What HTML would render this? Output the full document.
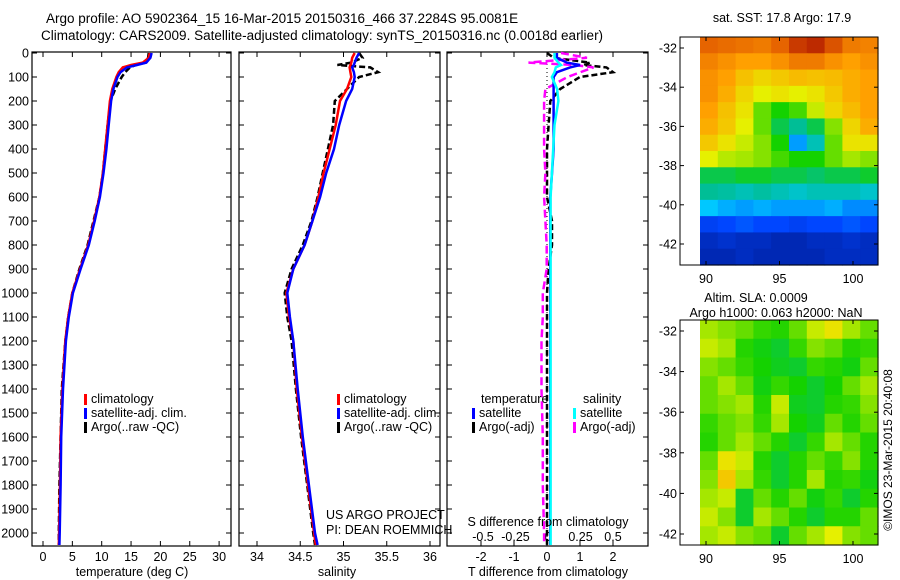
<!DOCTYPE html>
<html><head><meta charset="utf-8"><style>
html,body{margin:0;padding:0;background:#fff;}
svg{display:block;font-family:"Liberation Sans",sans-serif;}
</style></head><body>
<svg id="chart" width="900" height="580" viewBox="0 0 900 580">
<text x="46" y="23" font-size="13.5">Argo profile: AO 5902364_15 16-Mar-2015 20150316_466 37.2284S 95.0081E</text>
<text x="41" y="40" font-size="13.5">Climatology: CARS2009. Satellite-adjusted climatology: synTS_20150316.nc (0.0018d earlier)</text>
<g id="g"></g>
</svg>
<script>
const depths=[0,20,40,50,60,80,100,150,200,300,400,500,600,700,800,900,1000,1100,1200,1400,1600,1800,2000,2050];
const tempClim=[18.2,18.0,17.0,15.0,13.6,12.9,12.5,11.8,11.4,11.0,10.6,10.2,9.6,8.7,7.7,6.3,5.0,4.3,3.8,3.3,3.0,2.9,2.75,2.7];
const tempSat=[18.5,18.3,17.6,16.0,14.3,13.2,12.7,12.0,11.6,11.2,10.8,10.3,9.7,8.8,7.8,6.4,5.1,4.4,3.9,3.4,3.1,3.0,2.85,2.8];
const tempArgo=[18.0,17.9,17.5,15.8,14.8,14.0,13.4,12.3,11.5,11.0,10.6,10.2,9.6,8.6,7.6,6.2,5.0,4.3,3.8,3.2,3.0,2.8,2.7,2.7];
const salClim=[35.13,35.10,35.09,35.08,35.07,35.08,35.09,35.04,34.96,34.91,34.84,34.77,34.71,34.64,34.55,34.42,34.34,34.37,34.42,34.46,34.52,34.59,34.66,34.68];
const salSat=[35.18,35.15,35.13,35.12,35.10,35.12,35.13,35.10,35.03,34.95,34.89,34.80,34.73,34.64,34.55,34.42,34.35,34.38,34.42,34.47,34.53,34.60,34.67,34.70];
const salArgo=[35.18,35.22,35.09,34.93,35.31,35.40,35.18,35.04,34.90,34.88,34.82,34.76,34.70,34.63,34.53,34.40,34.32,34.35,34.40,34.45,34.51,34.58,34.65,34.67];
const tDiffSat=[0.3,0.3,0.6,1.0,0.7,0.3,0.2,0.2,0.2,0.2,0.2,0.15,0.1,0.1,0.1,0.1,0.1,0.1,0.1,0.1,0.1,0.1,0.1,0.1];
const tDiffArgo=[0,0.2,1.3,1.1,1.8,2.0,1.0,0.4,0.1,0.05,0,0,0,0.15,0.15,0.05,0,0,0,0,0,0,0,0];
const sDiffSat=[0.05,0.05,0.08,0.1,0.06,0.05,0.03,0.07,0.08,0.05,0.04,0.03,0.02,0.02,0.02,0.02,0.02,0.02,0.02,0.02,0.02,0.02,0.02,0.02];
const sDiffArgo=[0.1,0.3,-0.15,0.2,0.35,0.25,0.15,-0.02,-0.03,-0.03,-0.03,-0.02,-0.03,-0.02,-0.01,-0.01,-0.04,-0.04,-0.05,-0.05,-0.04,-0.04,-0.03,-0.03];
const depthTicks=[0,100,200,300,400,500,600,700,800,900,1000,1100,1200,1300,1400,1500,1600,1700,1800,1900,2000];
const tempTicks=[0,5,10,15,20,25,30];
const salTicks=[34,34.5,35,35.5,36];
const tdTicks=[-2,-1,0,1,2];
const sdTicks=[-0.5,-0.25,0,0.25,0.5];
const sdTickLabels=["-0.5","-0.25","0","0.25","0.5"];
const lonTicks=[90,95,100];
const latTicks=[-32,-34,-36,-38,-40,-42];
const sstGrid=[
[.88,.87,.86,.85,.88,.93,.95,.9,.85,.84],
[.84,.82,.8,.8,.82,.85,.85,.82,.8,.82],
[.82,.8,.75,.72,.74,.76,.75,.76,.78,.8],
[.82,.78,.72,.68,.7,.68,.7,.74,.78,.8],
[.8,.75,.7,.6,.55,.58,.66,.72,.76,.8],
[.78,.74,.68,.6,.5,.45,.5,.62,.72,.78],
[.74,.7,.66,.62,.55,.3,.42,.6,.7,.7],
[.68,.65,.64,.62,.58,.55,.55,.6,.64,.62],
[.5,.5,.52,.52,.5,.5,.48,.5,.5,.52],
[.45,.44,.42,.44,.42,.4,.42,.42,.42,.4],
[.35,.32,.3,.32,.3,.3,.3,.32,.28,.28],
[.18,.2,.22,.2,.2,.18,.2,.2,.22,.2],
[.1,.12,.1,.1,.08,.08,.1,.1,.12,.1],
[.08,.08,.1,.08,.08,.08,.08,.1,.1,.1]];
const slaGrid=[
[.64,.62,.6,.57,.56,.6,.66,.7,.64,.6],
[.66,.64,.56,.54,.52,.57,.62,.6,.56,.57],
[.62,.6,.57,.55,.53,.52,.57,.56,.54,.6],
[.6,.64,.6,.54,.57,.55,.52,.55,.6,.64],
[.6,.62,.64,.56,.66,.53,.52,.56,.57,.62],
[.57,.6,.62,.57,.64,.55,.53,.6,.56,.6],
[.56,.6,.64,.6,.56,.52,.57,.64,.6,.56],
[.6,.7,.66,.56,.52,.56,.6,.57,.62,.56],
[.62,.74,.64,.57,.52,.56,.64,.56,.57,.54],
[.64,.66,.52,.6,.56,.6,.54,.57,.52,.56],
[.66,.62,.52,.64,.6,.56,.52,.56,.56,.6],
[.64,.66,.62,.6,.52,.6,.64,.68,.62,.6]];

const NS="http://www.w3.org/2000/svg";
const G=document.getElementById('g');
function el(t,a,p){const e=document.createElementNS(NS,t);for(const k in a)e.setAttribute(k,a[k]);(p||G).appendChild(e);return e;}
const Y=d=>53+d*0.24;
const panels=[{x0:32,x1:231},{x0:239,x1:440},{x0:447,x1:648}];
const Xt=v=>43+v*5.87, Xs=v=>257+(v-34)*86.5, Xtd=v=>547+v*33, Xsd=v=>548+v*130;

function frame(p,name){
  const r=el('rect',{x:p.x0,y:52,width:p.x1-p.x0,height:494,fill:'none',stroke:'#000','stroke-width':1.2});
  
  
  depthTicks.forEach(d=>{el('line',{x1:p.x0,x2:p.x0+5,y1:Y(d),y2:Y(d),stroke:'#000'});el('line',{x1:p.x1-5,x2:p.x1,y1:Y(d),y2:Y(d),stroke:'#000'});});
}
function xticks(p,ticks,fx,labels,name){
  ticks.forEach((v,i)=>{const x=fx(v);
    el('line',{x1:x,x2:x,y1:52,y2:57,stroke:'#000'});el('line',{x1:x,x2:x,y1:541,y2:546,stroke:'#000'});
    const t=el('text',{x:x,y:561,'font-size':12.5,'text-anchor':'middle'});t.textContent=labels?labels[i]:v;
    
    
  });
}
function line(xs,fx,color,w,dash,name){
  const pts=depths.map((d,i)=>fx(xs[i]).toFixed(1)+','+Y(d).toFixed(1)).join(' ');
  const a={points:pts,fill:'none',stroke:color,'stroke-width':w};if(dash)a['stroke-dasharray']=dash;
  const e=el('polyline',a);
  
  
}
function txt(x,y,s,fs,name,anchor){const t=el('text',{x:x,y:y,'font-size':fs||12.5,'text-anchor':anchor||'start'});t.textContent=s;
  
  return t;}
function legend(x,y,color,label,name){
  const r=el('rect',{x:x,y:y-9,width:3,height:11,fill:color});
  
  
  txt(x+7,y,label,12.5,name);
}

frame(panels[0],'temperature-panel');
depthTicks.forEach(d=>txt(29,Y(d)+4.5,String(d),12.5,'depth-tick-label','end'));
xticks(panels[0],tempTicks,Xt,null,'temperature-tick-label');
line(tempArgo,Xt,'#000',2.5,'6,3','temperature-argo-line');
line(tempClim,Xt,'#f00',2.5,null,'temperature-climatology-line');
line(tempSat,Xt,'#00f',2.5,null,'temperature-satellite-line');
txt(132,576,'temperature (deg C)',12.5,'temperature-axis-title','middle');
legend(84,403,'#f00','climatology','legend-climatology');
legend(84,417,'#00f','satellite-adj. clim.','legend-satellite-adj');
legend(84,431,'#000','Argo(..raw -QC)','legend-argo');

frame(panels[1],'salinity-panel');
xticks(panels[1],salTicks,Xs,null,'salinity-tick-label');
line(salArgo,Xs,'#000',2.5,'6,3','salinity-argo-line');
line(salClim,Xs,'#f00',2.5,null,'salinity-climatology-line');
line(salSat,Xs,'#00f',2.5,null,'salinity-satellite-line');
txt(337,576,'salinity',12.5,'salinity-axis-title','middle');
legend(337,403,'#f00','climatology','legend-climatology-2');
legend(337,417,'#00f','satellite-adj. clim.','legend-satellite-adj-2');
legend(337,431,'#000','Argo(..raw -QC)','legend-argo-2');
txt(326,519,'US ARGO PROJECT',12.5,'project-label');
txt(326,534,'PI: DEAN ROEMMICH',12.5,'pi-label');

frame(panels[2],'difference-panel');
xticks(panels[2],tdTicks,Xtd,null,'t-diff-tick-label');
sdTicks.forEach((v,i)=>txt(Xsd(v),541,sdTickLabels[i],12.5,'s-diff-tick-label','middle'));
el('line',{x1:Xtd(0),x2:Xtd(0),y1:52,y2:546,stroke:'#000','stroke-dasharray':'1,3'});
line(tDiffArgo,Xtd,'#000',2.5,'6,3','t-diff-argo-line');
line(sDiffArgo,Xsd,'#f0f',2.5,'8,4','s-diff-argo-line');
line(tDiffSat,Xtd,'#00f',2.5,null,'t-diff-satellite-line');
line(sDiffSat,Xsd,'#0ff',2.5,null,'s-diff-satellite-line');
txt(481,403,'temperature',12.5,'legend-temperature-header');
txt(583,403,'salinity',12.5,'legend-salinity-header');
legend(472,417,'#00f','satellite','legend-t-satellite');
legend(472,431,'#000','Argo(-adj)','legend-t-argo');
legend(573,417,'#0ff','satellite','legend-s-satellite');
legend(573,431,'#f0f','Argo(-adj)','legend-s-argo');
txt(548,526,'S difference from climatology',12.5,'s-diff-axis-title','middle');
txt(548,576,'T difference from climatology',12.5,'t-diff-axis-title','middle');

const stops=[[0,[0,20,130]],[0.2,[0,70,255]],[0.35,[0,200,255]],[0.45,[0,190,150]],[0.55,[20,210,0]],[0.68,[230,240,0]],[0.8,[255,160,0]],[0.88,[230,100,0]],[1,[160,0,0]]];
function cmap(v){for(let i=1;i<stops.length;i++){if(v<=stops[i][0]){const a=stops[i-1],b=stops[i];const f=(v-a[0])/(b[0]-a[0]);return 'rgb('+a[1].map((c,k)=>Math.round(c+(b[1][k]-c)*f)).join(',')+')';}}return 'rgb(160,0,0)';}
function map(grid,y0,y1,latY,name){
  const x0=680,x1=878,ix0=700;
  const rows=grid.length,cols=grid[0].length,cw=(x1-ix0)/cols,rh=(y1-y0)/rows;
  grid.forEach((row,r)=>row.forEach((v,c)=>{
    const e=el('rect',{x:ix0+c*cw,y:y0+r*rh,width:cw+0.6,height:rh+0.6,fill:cmap(v)});
    
    
  }));
  const f=el('rect',{x:x0,y:y0,width:x1-x0,height:y1-y0,fill:'none',stroke:'#000'});
  
  
  const Xl=v=>706+(v-90)*14.7;
  lonTicks.forEach(v=>{el('line',{x1:Xl(v),x2:Xl(v),y1:y0,y2:y0+4,stroke:'#000'});el('line',{x1:Xl(v),x2:Xl(v),y1:y1-4,y2:y1,stroke:'#000'});txt(Xl(v),y1+18,String(v),12.5,name+'-lon-label','middle');});
  latTicks.forEach(v=>{const y=latY(v);el('line',{x1:x0,x2:x0+4,y1:y,y2:y,stroke:'#000'});el('line',{x1:x1-4,x2:x1,y1:y,y2:y,stroke:'#000'});txt(677,y+4.5,String(v),12.5,name+'-lat-label','end');});
}
map(sstGrid,37,265,v=>48+(-32-v)*19.6,'sst-map');
map(slaGrid,320,545,v=>331+(-32-v)*20.3,'sla-map');
txt(782,22,'sat. SST: 17.8 Argo: 17.9',12.5,'sst-map-title','middle');
txt(756,302,'Altim. SLA: 0.0009',12.5,'sla-map-title','middle');
txt(776,317,'Argo h1000: 0.063 h2000: NaN',12.5,'sla-map-subtitle','middle');
const c=txt(0,0,'©IMOS 23-Mar-2015 20:40:08',12,'copyright-label','middle');
c.setAttribute('transform','translate(892,450) rotate(-90)');
</script>
</body></html>
